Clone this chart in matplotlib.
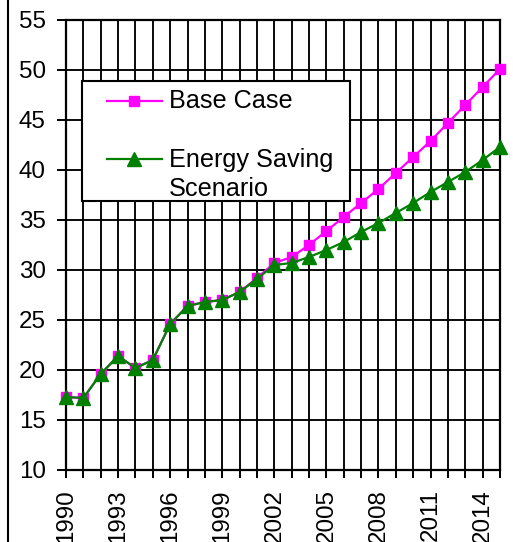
import matplotlib
matplotlib.use("Agg")
import matplotlib.pyplot as plt
from matplotlib.lines import Line2D
from matplotlib.patches import Rectangle

plt.rcParams['font.family'] = ['Liberation Sans', 'DejaVu Sans']

years = list(range(1990, 2016))
base_case = [17.3, 17.2, 19.6, 21.4, 20.2, 21.0, 24.6, 26.4, 26.8, 27.0,
             27.8, 29.2, 30.7, 31.3, 32.5, 33.9, 35.3, 36.7, 38.1, 39.7,
             41.3, 42.9, 44.7, 46.5, 48.3, 50.1]
energy_saving = [17.3, 17.2, 19.6, 21.4, 20.2, 21.0, 24.6, 26.4, 26.8, 27.0,
                 27.8, 29.1, 30.5, 30.7, 31.3, 32.0, 32.8, 33.8, 34.7, 35.7,
                 36.7, 37.8, 38.8, 39.8, 41.0, 42.3]
label_years = list(range(1990, 2016, 3))

fs = 17.4
fs_leg = 18.2
fig = plt.figure(figsize=(5.13, 5.42), dpi=100)
ax = fig.add_axes([66/513, 1-470/542, 434/513, 450/542])

ax.plot(years, base_case, '-s', color='#FF00FF', lw=1.6, ms=7.8,
        mfc='#FF00FF', mec='#FF00FF', zorder=3, clip_on=False)
ax.plot(years, energy_saving, '-^', color='#008000', lw=1.6, ms=9.5,
        mfc='#008000', mec='#008000', zorder=4, clip_on=False)

ax.set_xlim(1990, 2015)
ax.set_ylim(10, 55)
ax.set_xticks(years)
ax.set_xticklabels([str(y) if y in label_years else '' for y in years],
                   rotation=90, fontsize=fs)
ax.set_yticks(range(10, 60, 5))
ax.tick_params(axis='y', labelsize=fs, length=6.5, width=1.4, pad=8)
ax.tick_params(axis='x', length=6, width=1.4, pad=8)
ax.grid(True, color='black', lw=1.35)
ax.set_axisbelow(True)
for s in ax.spines.values():
    s.set_linewidth(1.6)

# legend box drawn by hand to match the placement
ax.add_patch(Rectangle((0.037, 0.598), 0.617, 0.266, transform=ax.transAxes,
                       fc='white', ec='black', lw=1.5, zorder=5))
ax.add_line(Line2D([0.094, 0.221], [0.82, 0.82], transform=ax.transAxes,
                   color='#FF00FF', lw=1.6, zorder=6))
ax.add_line(Line2D([0.157], [0.82], transform=ax.transAxes, marker='s',
                   ms=7.8, color='#FF00FF', zorder=6))
ax.add_line(Line2D([0.094, 0.221], [0.692, 0.692], transform=ax.transAxes,
                   color='#008000', lw=1.6, zorder=6))
ax.add_line(Line2D([0.157], [0.692], transform=ax.transAxes, marker='^',
                   ms=9.5, color='#008000', zorder=6))
ax.text(0.237, 0.82, 'Base Case', transform=ax.transAxes, fontsize=fs_leg,
        va='center', ha='left', zorder=7)
ax.text(0.237, 0.716, 'Energy Saving\nScenario', transform=ax.transAxes,
        fontsize=fs_leg, va='top', ha='left', linespacing=1.25, zorder=7)

fig.add_artist(Line2D([8/513, 8/513], [0, 1], transform=fig.transFigure,
                      color='black', lw=1.5))

fig.savefig('out.png', dpi=100)
